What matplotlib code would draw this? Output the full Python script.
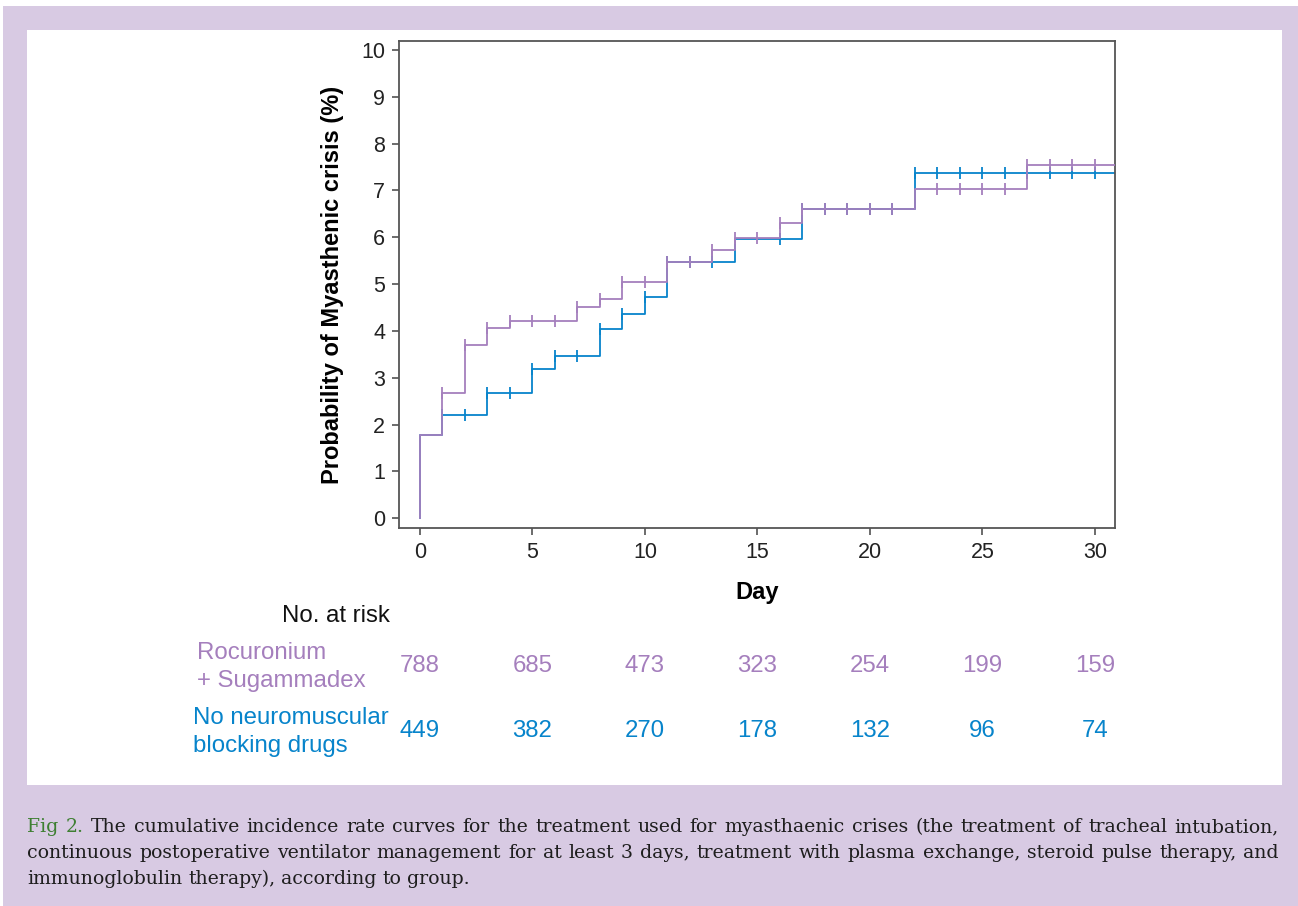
import numpy as np
import matplotlib.pyplot as plt
import matplotlib.patches as patches
import matplotlib.transforms as transforms

# cumulative incidence (%) step curves
roc_days = [0, 0, 1, 2, 3, 4, 7, 8, 9, 11, 13, 14, 16, 17, 22, 27, 31]
roc_vals = [0, 1.77, 2.67, 3.69, 4.07, 4.21, 4.52, 4.68, 5.04, 5.47, 5.72, 5.99, 6.31, 6.61, 7.02, 7.55, 7.55]
roc_censor = [1, 2, 3, 4, 5, 6, 7, 8, 9, 10, 11, 12, 13, 14, 15, 16, 17, 18, 19, 20, 21,
              23, 24, 25, 26, 27, 28, 29, 30]

non_days = [0, 0, 1, 3, 5, 6, 8, 9, 10, 11, 14, 17, 22, 31]
non_vals = [0, 1.77, 2.21, 2.67, 3.18, 3.47, 4.05, 4.37, 4.72, 5.47, 5.97, 6.60, 7.37, 7.37]
non_censor = [1, 2, 3, 4, 5, 6, 7, 8, 9, 10, 11, 12, 13, 16, 17, 18, 19, 20, 21,
              22, 23, 24, 25, 26, 27, 28, 29, 30]

risk_days = [0, 5, 10, 15, 20, 25, 30]
roc_risk = [788, 685, 473, 323, 254, 199, 159]
non_risk = [449, 382, 270, 178, 132, 96, 74]

roc_label = "Rocuronium\n+ Sugammadex"
non_label = "No neuromuscular\nblocking drugs"

caption_lines = [
    "Fig 2. The cumulative incidence rate curves for the treatment used for myasthaenic crises (the treatment of tracheal intubation,",
    "continuous postoperative ventilator management for at least 3 days, treatment with plasma exchange, steroid pulse therapy, and",
    "immunoglobulin therapy), according to group.",
]

purple = "#A57FBD"
blue = "#0784CB"
lavender = "#D8CAE3"
green = "#3E7F32"

W, H = 1298, 906
fig = plt.figure(figsize=(W / 100, H / 100), dpi=100)
fig.patch.set_facecolor("white")
fig.patches.append(patches.Rectangle((3 / W, 0), 1 - 3 / W, 1 - 6 / H, transform=fig.transFigure,
                                     facecolor=lavender, edgecolor="none", zorder=-10))
fig.patches.append(patches.Rectangle((27 / W, 1 - 785 / H), 1255 / W, 755 / H, transform=fig.transFigure,
                                     facecolor="white", edgecolor="none", zorder=-9))

plt.rcParams["font.family"] = ["Liberation Sans", "DejaVu Sans"]

ax = fig.add_axes([399 / W, 1 - 528 / H, 716 / W, 487 / H])
ax.set_facecolor("none")


def step_at(days, vals, t):
    idx = np.searchsorted(days, t, side="right") - 1
    return vals[idx]


ax.step(non_days, non_vals, where="post", color=blue, lw=1.3, zorder=2)
ax.plot(non_censor, [step_at(non_days, non_vals, t) for t in non_censor], ls="none",
        marker="|", ms=9, mew=1.3, color=blue, zorder=2)
ax.step(roc_days, roc_vals, where="post", color=purple, lw=1.3, zorder=3)
ax.plot(roc_censor, [step_at(roc_days, roc_vals, t) for t in roc_censor], ls="none",
        marker="|", ms=9, mew=1.3, color=purple, zorder=3)

ax.set_xlim(-0.93, 30.89)
ax.set_ylim(-0.21, 10.19)
ax.set_xticks(range(0, 31, 5))
ax.set_yticks(range(0, 11))
for s in ax.spines.values():
    s.set_color("#555555")
    s.set_linewidth(1.3)
ax.tick_params(direction="out", length=5, width=1.1, color="#444444", labelsize=15.5,
               labelcolor="#222222", pad=5)
ax.set_xlabel("Day", fontsize=17, fontweight="bold", labelpad=13)
ax.set_ylabel("Probability of Myasthenic crisis (%)", fontsize=17, fontweight="bold", labelpad=12)

# number at risk table
fs = 17.3
tr = transforms.blended_transform_factory(ax.transData, fig.transFigure)
fig.text(390 / W, 1 - 616 / H, "No. at risk", ha="right", va="center", fontsize=fs, color="#111111")
for d, a, b in zip(risk_days, roc_risk, non_risk):
    fig.text(d, 1 - 666 / H, str(a), transform=tr, ha="center", va="center", fontsize=fs, color=purple)
    fig.text(d, 1 - 731 / H, str(b), transform=tr, ha="center", va="center", fontsize=fs, color=blue)
fig.text(197 / W, 1 - 667 / H, roc_label, ha="left", va="center", fontsize=fs, color=purple,
         linespacing=1.4)
fig.text(193 / W, 1 - 732 / H, non_label, ha="left", va="center", fontsize=fs, color=blue,
         linespacing=1.4)

# justified caption
renderer = fig.canvas.get_renderer()
cap_kw = dict(fontsize=13.6, family="DejaVu Serif", color="#1e1e1e", va="baseline", ha="left")
x0, x1 = 27, 1279
baselines = [832, 858, 884]
for li, (line, yb) in enumerate(zip(caption_lines, baselines)):
    words = line.split(" ")
    colors = ["#1e1e1e"] * len(words)
    if li == 0:
        colors[0] = green
        colors[1] = green
    widths = []
    for w in words:
        t = fig.text(0, 0, w, **cap_kw)
        widths.append(t.get_window_extent(renderer).width)
        t.remove()
    if li < len(caption_lines) - 1:
        gap = (x1 - x0 - sum(widths)) / (len(words) - 1)
    else:
        t = fig.text(0, 0, "a a", **cap_kw)
        t2 = fig.text(0, 0, "aa", **cap_kw)
        gap = t.get_window_extent(renderer).width - t2.get_window_extent(renderer).width
        t.remove()
        t2.remove()
    x = x0
    for w, wd, c in zip(words, widths, colors):
        kw = dict(cap_kw)
        kw["color"] = c
        fig.text(x / W, 1 - yb / H, w, **kw)
        x += wd + gap

fig.savefig("out.png", dpi=100, facecolor=fig.get_facecolor())
